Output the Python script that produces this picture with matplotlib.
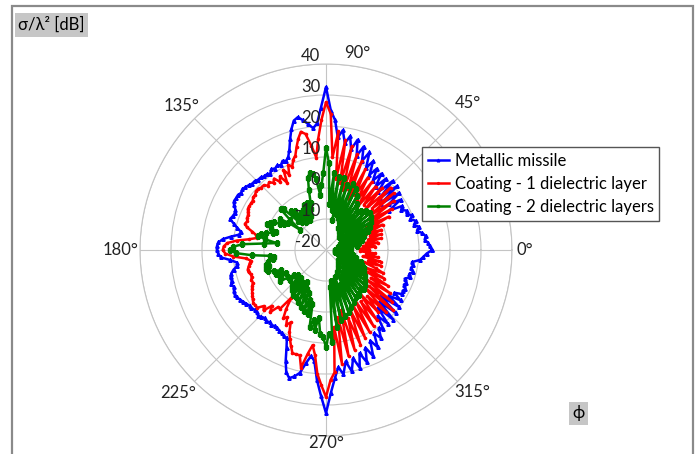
import numpy as np
import matplotlib
matplotlib.use("Agg")
import matplotlib.pyplot as plt
from matplotlib.patches import Rectangle
from matplotlib.transforms import offset_copy

plt.rcParams['font.family'] = ['Lato', 'DejaVu Sans']

# angles in degrees, 2 degree steps (0 .. 358)
angles_deg = list(range(0, 360, 2))

# RCS in dB
metallic = [
    14.2, 13.5, 13.0, 12.0, 12.5, 11.5, 10.0, 11.0, 9.5, 10.5,      # 0-18
    9.0, 10.0, 8.5, 9.0, 7.5, 8.5, 4.0, 9.0, 5.0, 10.0,             # 20-38
    3.0, 11.0, 4.0, 11.0, 5.0, 10.0, 6.0, 10.5, 7.0, 11.0,          # 40-58
    8.0, 12.5, 9.5, 14.5, 11.0, 15.5, 12.0, 17.0, 13.5, 17.5,       # 60-78
    15.0, 19.0, 16.5, 22.0, 25.0, 32.6, 26.0, 21.0, 19.5, 21.0,     # 80-98
    22.5, 23.8, 23.0, 20.5, 17.5, 14.5, 12.5, 11.5, 12.0, 11.0,     # 100-118
    11.5, 11.0, 11.5, 10.5, 11.0, 11.0, 11.5, 11.5, 12.0, 12.0,     # 120-138
    12.5, 13.0, 13.3, 13.0, 13.5, 13.5, 13.6, 13.0, 12.0, 11.7,     # 140-158
    12.0, 12.5, 11.0, 9.5, 8.0, 8.5, 11.0, 13.5, 14.8, 15.2,        # 160-178
    15.2, 14.8, 14.0, 11.0, 9.0, 9.0, 10.5, 11.5, 12.0, 12.0,       # 180-198
    12.5, 12.0, 12.5, 12.8, 12.6, 12.0, 11.5, 11.0, 10.5, 10.5,     # 200-218
    10.0, 10.0, 10.5, 10.0, 9.5, 10.0, 9.5, 10.0, 9.5, 9.7,         # 220-238
    10.0, 10.5, 11.0, 11.0, 14.0, 18.0, 21.5, 23.0, 22.0, 20.5,     # 240-258
    17.0, 14.5, 16.0, 22.0, 27.0, 32.6, 26.0, 21.4, 18.0, 20.5,     # 260-278
    16.5, 20.0, 16.0, 19.5, 15.0, 18.5, 14.0, 17.5, 12.5, 15.5,     # 280-298
    11.0, 13.5, 10.4, 11.5, 7.0, 11.0, 5.0, 11.2, 4.0, 10.5,        # 300-318
    3.0, 10.0, 5.0, 9.0, 6.0, 8.5, 8.0, 8.5, 7.5, 8.0,              # 320-338
    7.0, 8.5, 8.0, 9.0, 8.0, 8.5, 8.0, 10.5, 11.5, 12.5,            # 340-358
]

coating_1 = [
    -6, -9, -4, -8, -3, -7, -2, -6, -1.5, -5,                       # 0-18
    -1, -6, 0, -4, 3, -5, 5, -3, 7, -2,                             # 20-38
    8.5, 0, 9, -2, 7, -1, 6, -3, 6.5, -1,                           # 40-58
    7, 0, 9, -2, 11, 1, 12.5, 0, 14.5, 2,                           # 60-78
    16, 3, 18.5, 10, 24, 27.7, 22, 16, 10, 14,                      # 80-98
    18, 19, 17, 14.5, 12, 11, 9, 10, 7, 9.3,                        # 100-118
    5, 8, 6.5, 8.5, 7.5, 8.5, 8, 9, 9, 9.5,                         # 120-138
    9.5, 9, 9, 8.5, 8.5, 8.5, 8.5, 8, 7.5, 7.5,                     # 140-158
    7, 7.5, 6.5, 4.5, 3, 2.5, 5, 9, 12, 13,                         # 160-178
    13.3, 12.5, 10, 6, 4.5, 5, 5.5, 6, 6, 5.5,                      # 180-198
    5.5, 6, 5.8, 6.5, 7, 7.5, 8, 8.5, 9, 9,                         # 200-218
    9, 7, 8, 5, 7, 4, 4, -1, 3, 6,                                  # 220-238
    5, 7.3, 6, 9, 11, 13, 15, 15, 15, 18.8,                         # 240-258
    14, 11, 14, 20, 23.6, 27.4, 22, 19.6, 5, 17,                    # 260-278
    2, 15, 0, 13.5, 3, 12.5, 1, 11, 0, 10,                          # 280-298
    -1, 9, 0, 8, -2, 6.3, 0, 8, -3, 9,                              # 300-318
    -2, 7, -4, 5, -3, 3, -5, 1, -6, 0,                              # 320-338
    -3, -7, -1.5, -6, -2, -8, -3, -7, -4, -9,                       # 340-358
]

coating_2 = [
    -13, -17, -12, -16, -10, -15, -9, -16, -8, -14,                 # 0-18
    -7, -15, -5, -13, -4, -14, -3, -12, -2, -13,                    # 20-38
    -1.6, -11, -2, -14, -3, -12, -4, -13, -2, -11,                  # 40-58
    0, -12, 2, -10, 3, -9, 2, -8, 4, -10,                           # 60-78
    4, -7, 5, -5, 8, 13, 5, 1, -2, 3,                               # 80-98
    5, 5.4, 4, 0, -4, -6, -3.6, -8, -4, -9,                         # 100-118
    -5, -8, -5.5, -9, -4, -8, -3, -7, -1, -0.3,                     # 120-138
    -5, -9.4, -5, -2, -4, -3, -1, 0, 1, -1,                         # 140-158
    -3, -2, 0, 1.5, 2.3, 0, -4, 0, 7, 10,                           # 160-178
    11, 9, 4, -2, -3, -2.7, -1, 0, -1, 0.3,                         # 180-198
    0, -2, -4, -2, -3, -5, -3, -2, -5, -7,                          # 200-218
    -5, -8, -7, -4, -8, -3, -6, -2, -7, -2,                         # 220-238
    -8, -1, -6, 0, -5, 1, -3, 1.6, -2, 5.5,                         # 240-258
    3, 6, 2, 7, 8, 11.3, 7, 9.7, -8, 5,                             # 260-278
    -10, 3, -9, 2, -11, 1.4, -8, 0, -12, -1,                        # 280-298
    -10, -2, -13, -2, -11, -3, -14, -2.5, -12, -3,                  # 300-318
    -15, -4, -13, -5, -14, -6, -15, -6.5, -14, -7.4,                # 320-338
    -16, -8, -15, -10, -17, -11, -16, -12, -17, -13,                # 340-358
]

series = [
    ('Metallic missile', metallic, 'blue', '^', 2.4),
    ('Coating - 1 dielectric layer', coating_1, 'red', '.', 3.2),
    ('Coating - 2 dielectric layers', coating_2, 'green', 's', 2.2),
]

r_ticks = [-20, -10, 0, 10, 20, 30, 40]
angle_ticks = [0, 45, 90, 135, 180, 225, 270, 315]

fig = plt.figure(figsize=(7.0, 4.54), dpi=100)
ax = fig.add_axes([0.2, 0.0396, 0.5314, 0.8194], projection='polar')

theta = np.deg2rad(angles_deg + [angles_deg[0]])
for name, vals, color, mk, ms in series:
    ax.plot(theta, vals + [vals[0]], color=color, lw=1.8, marker=mk,
            markersize=ms, label=name)

ax.set_ylim(-20, 40)
ax.set_yticks(r_ticks)
ax.set_yticklabels([])
ax.set_xticks(np.deg2rad(angle_ticks))
ax.set_xticklabels([])
ax.grid(True, color='#c4c4c4', lw=0.8)
ax.spines['polar'].set_color('#c4c4c4')
ax.spines['polar'].set_linewidth(0.8)

# radial labels along the 90 degree axis
lab_tr = offset_copy(ax.transData, fig=fig, x=-4, y=0, units='points')
for r in r_ticks:
    ax.text(np.pi / 2, r, str(r), transform=lab_tr, ha='right', va='bottom',
            fontsize=12, color='#222222', clip_on=False)

# angle labels
angle_pos = {0: (0, 44.0), 45: (46, 45.8), 90: (81, 44.5), 135: (135, 45.8),
             180: (180, 46.3), 225: (224, 46.3), 270: (270, 42.3), 315: (316, 45.8)}
for a in angle_ticks:
    ang, r = angle_pos[a]
    ax.text(np.deg2rad(ang), r, f'{a}°', ha='center', va='center',
            fontsize=12, color='#222222', clip_on=False)

leg = fig.legend(loc='upper left', bbox_to_anchor=(0.603, 0.676), fontsize=12,
                 handlelength=1.25, handletextpad=0.35, borderpad=0.35,
                 borderaxespad=0, labelspacing=0.42, fancybox=False,
                 framealpha=1, edgecolor='#555555', markerscale=0.8)
leg.get_frame().set_linewidth(1.0)

# outer frame
fig.add_artist(Rectangle((0.0171, -0.1), 0.973, 1.0868, transform=fig.transFigure,
                         fill=False, edgecolor='#8a8a8a', lw=1.6))

fig.text(0.026, 0.945, 'σ/λ² [dB]', fontsize=12, ha='left', va='center',
         bbox=dict(facecolor='#c6c6c6', edgecolor='none', pad=2.5))
fig.text(0.826, 0.09, 'ϕ', fontsize=12, ha='center', va='center',
         bbox=dict(facecolor='#c6c6c6', edgecolor='none', pad=2.5))

fig.savefig('out.png', dpi=100)
